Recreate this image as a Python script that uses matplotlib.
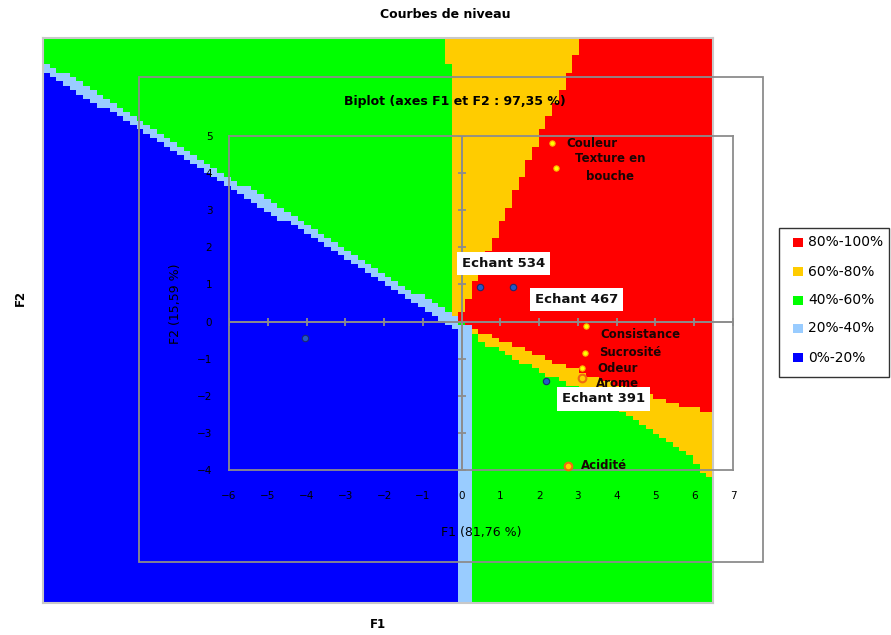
import numpy as np
import matplotlib
matplotlib.use('Agg')
import matplotlib.pyplot as plt
from matplotlib.colors import ListedColormap, BoundaryNorm
from matplotlib.patches import Rectangle

# ---------------- data ----------------
class_labels = ['0%-20%', '20%-40%', '40%-60%', '60%-80%', '80%-100%']
class_colors = ['#0000FF', '#99CCFF', '#00FF00', '#FFCC00', '#FF0000']

# Boundaries of the preference map (F1 / F2 units)
band_slope = -0.652            # upper-left green / light-blue edge : F2 = slope * F1
band_width = 0.26              # width of the light-blue band (F2 units)
strip_f1 = [-0.03, 0.25]       # light-blue vertical strip (lower half)
strip_top_f2 = -0.12
gy_up_f2 = [0.0, 6.9, 7.0, 8.0]              # green / yellow edge (upper half)
gy_up_f1 = [-0.22, -0.22, -0.37, -0.37]
ry_up_f2 = [0.0, 0.93, 1.84, 5.16, 6.59, 7.64]   # yellow / red edge (upper half)
ry_up_f1 = [-0.10, 0.29, 0.68, 2.07, 2.74, 3.13]
ry_low_f1 = [0.0, 0.29, 1.17, 2.02, 3.57, 4.94, 6.33, 6.6]   # red / yellow edge (lower half)
ry_low_f2 = [0.0, -0.22, -0.55, -0.94, -1.56, -2.02, -2.45, -2.5]
yg_low_f1 = [0.1, 0.55, 1.17, 2.02, 3.49, 4.94, 5.97, 6.33, 6.6]  # yellow / green edge (lower half)
yg_low_f2 = [-0.1, -0.55, -0.90, -1.35, -2.02, -2.99, -3.72, -4.18, -4.25]
grid_nx, grid_ny = 100, 130

# Biplot points
var_names = ['Couleur', 'Texture en\nbouche', 'Consistance', 'Sucrosité', 'Odeur', 'Arome', 'Acidité']
var_f1 = [2.34, 2.43, 3.21, 3.18, 3.10, 3.10, 2.74]
var_f2 = [4.80, 4.15, -0.11, -0.84, -1.26, -1.51, -3.88]
var_kind = [0, 0, 0, 0, 0, 1, 1]   # 0 = small yellow dot, 1 = orange ring

obs_names = ['Echant 534', 'Echant 467', 'Echant 391', '']
obs_f1 = [0.475, 1.32, 2.18, -4.04]
obs_f2 = [0.92, 0.92, -1.60, -0.45]

xticks = list(range(-6, 8))
yticks = list(range(-4, 6))

title_map = 'Courbes de niveau'
title_biplot = 'Biplot (axes F1 et F2 : 97,35 %)'
xlabel_bi = 'F1 (81,76 %)'
ylabel_bi = 'F2 (15,59 %)'

# ---------------- layout ----------------
W, H = 891, 635
bi_px = (229, 136, 733, 470)     # left, top, right, bottom
map_px = (43, 38, 713, 603)
chart_px = (139, 77, 763, 562)
grey = '#8c8c8c'

def frac_rect(px):
    l, t, r, b = px
    return [l / W, 1 - b / H, (r - l) / W, (b - t) / H]

xlim_bi = (xticks[0], xticks[-1])
ylim_bi = (yticks[0], yticks[-1])
sx = (xlim_bi[1] - xlim_bi[0]) / (bi_px[2] - bi_px[0])
sy = (ylim_bi[1] - ylim_bi[0]) / (bi_px[3] - bi_px[1])
map_xlim = (xlim_bi[0] + (map_px[0] - bi_px[0]) * sx, xlim_bi[1] + (map_px[2] - bi_px[2]) * sx)
map_ylim = (ylim_bi[0] - (map_px[3] - bi_px[3]) * sy, ylim_bi[1] + (bi_px[1] - map_px[1]) * sy)

fig = plt.figure(figsize=(W / 100, H / 100), dpi=100)
fig.patch.set_facecolor('white')

# ---------------- preference map ----------------
axm = fig.add_axes(frac_rect(map_px), zorder=0)
xe = np.linspace(map_xlim[0], map_xlim[1], grid_nx + 1)
ye = np.linspace(map_ylim[0], map_ylim[1], grid_ny + 1)
X, Y = np.meshgrid((xe[:-1] + xe[1:]) / 2, (ye[:-1] + ye[1:]) / 2)
cls = np.full(X.shape, 2)
cls[(X >= np.interp(Y, gy_up_f2, gy_up_f1)) & (Y > 0)] = 3
ry_low = np.interp(X, ry_low_f1, ry_low_f2)
yg_low = np.interp(X, yg_low_f1, yg_low_f2)
cls[(Y <= ry_low) & (Y > yg_low) & (X >= strip_f1[1])] = 3
cls[(X > np.interp(Y, ry_up_f2, ry_up_f1)) & (Y > ry_low)] = 4
left = X < strip_f1[0]
cls[left & (Y < band_slope * X)] = 1
cls[(X >= strip_f1[0]) & (X < strip_f1[1]) & (Y < strip_top_f2)] = 1
cls[left & (Y < band_slope * X - band_width)] = 0

cmap = ListedColormap(class_colors)
norm = BoundaryNorm(np.arange(-0.5, len(class_colors) + 0.5), cmap.N)
axm.imshow(cls, origin='lower', extent=(xe[0], xe[-1], ye[0], ye[-1]),
           aspect='auto', interpolation='nearest', cmap=cmap, norm=norm)
axm.set_xlim(map_xlim)
axm.set_ylim(map_ylim)
axm.set_xticks([])
axm.set_yticks([])
for s in axm.spines.values():
    s.set_color('#c8c8c8')
    s.set_linewidth(1.5)

fig.text(445 / W, 1 - 15 / H, title_map, ha='center', va='center',
         fontsize=9, fontweight='bold')
fig.text(378 / W, 1 - 625 / H, 'F1', ha='center', va='center', fontsize=8.5, fontweight='bold')
fig.text(20 / W, 1 - 298 / H, 'F2', ha='center', va='center', fontsize=8.5,
         fontweight='bold', rotation=90)

# legend
fig.add_artist(Rectangle((779 / W, 1 - 377 / H), 110 / W, 149 / H, transform=fig.transFigure,
                         facecolor='white', edgecolor='#333333', lw=1, zorder=3))
row_y = [242.5, 271.5, 300, 328.5, 357.5]
for i, (lab, col) in enumerate(zip(class_labels[::-1], class_colors[::-1])):
    yy = row_y[i]
    fig.add_artist(Rectangle((793 / W, 1 - (yy + 4.5) / H), 10 / W, 9 / H,
                             transform=fig.transFigure, facecolor=col, edgecolor='none', zorder=4))
    fig.text(808 / W, 1 - yy / H, lab, ha='left', va='center', fontsize=10, zorder=5)

# ---------------- biplot overlay ----------------
fig.add_artist(Rectangle((chart_px[0] / W, 1 - chart_px[3] / H),
                         (chart_px[2] - chart_px[0]) / W, (chart_px[3] - chart_px[1]) / H,
                         transform=fig.transFigure, facecolor='none', edgecolor=grey,
                         lw=1.3, zorder=1))
fig.text(455 / W, 1 - 101 / H, title_biplot, ha='center', va='center', fontsize=9,
         fontweight='bold', zorder=6)

ax = fig.add_axes(frac_rect(bi_px), zorder=2)
ax.patch.set_alpha(0)
ax.set_xlim(xlim_bi)
ax.set_ylim(ylim_bi)
for s in ax.spines.values():
    s.set_color(grey)
    s.set_linewidth(1.3)
ax.set_xticks(xticks)
ax.set_yticks(yticks)
ax.tick_params(axis='x', length=0, labelsize=7.5, pad=15)
ax.tick_params(axis='y', length=0, labelsize=7.5, pad=12)
ax.axhline(0, color=grey, lw=1.4, zorder=1)
ax.axvline(0, color=grey, lw=1.4, zorder=1)
ax.plot(xticks, [0] * len(xticks), ls='none', marker='|', ms=6, mew=1.3, color=grey, zorder=1)
ax.plot([0] * len(yticks), yticks, ls='none', marker='_', ms=6, mew=1.3, color=grey, zorder=1)
ax.set_xlabel(xlabel_bi, fontsize=9, labelpad=4)
ax.set_ylabel(ylabel_bi, fontsize=9, labelpad=4)
ax.xaxis.set_label_coords((481 - bi_px[0]) / (bi_px[2] - bi_px[0]),
                          -(526 - bi_px[3]) / (bi_px[3] - bi_px[1]))
ax.yaxis.set_label_coords(-(bi_px[0] - 182) / (bi_px[2] - bi_px[0]),
                          (bi_px[3] - 304) / (bi_px[3] - bi_px[1]))

# variable points
for x, y, k in zip(var_f1, var_f2, var_kind):
    if k == 0:
        ax.plot(x, y, 'o', ms=3.8, mfc='#FFFF00', mec='#FFB000', mew=0.8, zorder=4, clip_on=False)
    else:
        ax.plot(x, y, 'o', ms=5.5, mfc='#FFD000', mec='#F06A10', mew=1.5, zorder=4, clip_on=False)

var_off = [(10, 0, 'left'), (39, 0, 'center'), (10, -6.7, 'left'), (10.3, 0, 'left'),
           (11, 0, 'left'), (10, -4.5, 'left'), (9.5, 0, 'left')]
for name, x, y, (dx, dy, ha) in zip(var_names, var_f1, var_f2, var_off):
    ax.annotate(name, (x, y), xytext=(dx, dy), textcoords='offset points', ha=ha, va='center',
                fontsize=8.5, fontweight='bold', color='#1a0505', linespacing=1.55, zorder=5)

# observation points
ax.plot(obs_f1, obs_f2, 'o', ls='none', ms=4.6, mfc='#2458C8', mec='#1a2a70', mew=0.8, zorder=4)
obs_off = [(17, 17.5), (46, -8.4), (41, -13), (0, 0)]
for name, x, y, (dx, dy) in zip(obs_names, obs_f1, obs_f2, obs_off):
    if not name:
        continue
    ax.annotate(name, (x, y), xytext=(dx, dy), textcoords='offset points', ha='center',
                va='center', fontsize=9.5, fontweight='bold', color='#111111', zorder=6,
                bbox=dict(boxstyle='square,pad=0.38', fc='white', ec='none'))

fig.savefig('out.png', dpi=100)
